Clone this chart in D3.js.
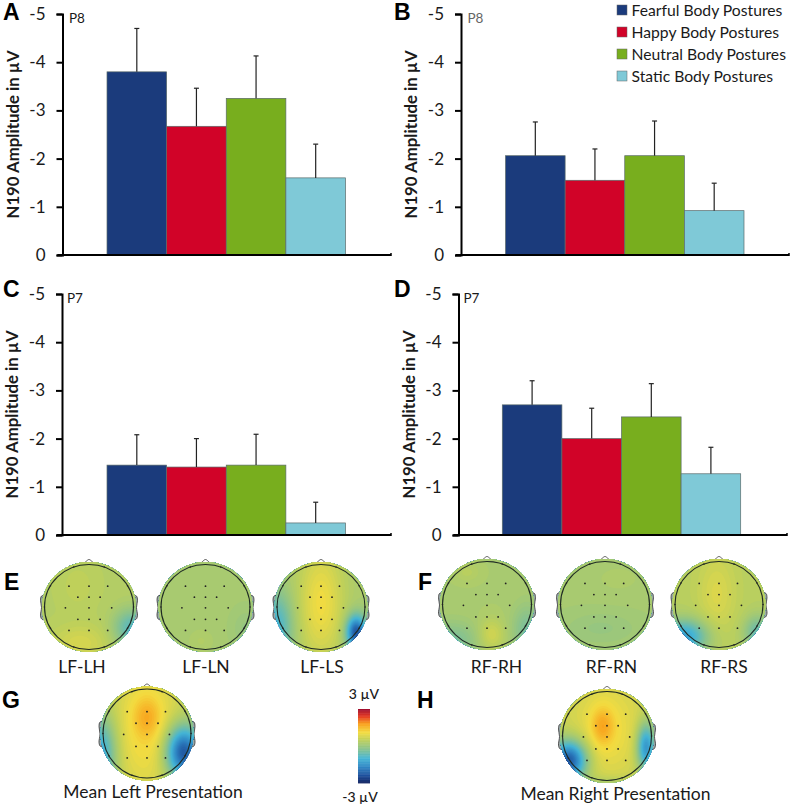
<!DOCTYPE html>
<html lang="en">
<head>
<meta charset="UTF-8">
<title>N190 chart</title>
<style>
  body { margin: 0; background: #fff; }
  text { font-family: Lato, "Open Sans", sans-serif; fill: #1a1a1a; }
</style>
</head>
<body>
<script src="https://d3js.org/d3.v7.min.js"></script>
<script>
// bar data (plotted on a reversed axis, so values are negative)
const categories = ['Fearful Body Postures', 'Happy Body Postures', 'Neutral Body Postures', 'Static Body Postures'];
const colors = ['#1b3b7c', '#d10328', '#78ae1e', '#7fc9d7'];
const yTicks = [0, -1, -2, -3, -4, -5];

const valuesA = [-3.8, -2.67, -3.25, -1.6];
const errorTopA = [-4.7, -3.46, -4.13, -2.3];
const valuesB = [-2.06, -1.55, -2.06, -0.92];
const errorTopB = [-2.76, -2.2, -2.78, -1.49];
const valuesC = [-1.45, -1.41, -1.45, -0.25];
const errorTopC = [-2.08, -2.0, -2.09, -0.68];
const valuesD = [-2.7, -2.0, -2.45, -1.27];
const errorTopD = [-3.2, -2.63, -3.14, -1.82];

// scalp maps: base level in uV, then the visible blobs as [x, y, spreadX, spreadY, uV]
const baseE1 = 0.4, blobsE1 = [[-0.2, 0.85, 0.45, 0.3, 0.4], [-0.25, -0.5, 0.3, 0.4, 0.15], [0.95, 0.5, 0.28, 0.32, -1.1]];
const baseE2 = 0.2, blobsE2 = [[-0.1, 0.8, 0.2, 0.2, 0.15], [0.9, 0.5, 0.2, 0.3, -0.2]];
const baseE3 = 0.25, blobsE3 = [[0, -0.1, 0.36, 0.95, 0.85], [0.8, 0.6, 0.16, 0.28, -2.6], [-1.02, 0.5, 0.26, 0.6, -1.2]];
const baseF1 = 0.25, blobsF1 = [[0.1, 0.7, 0.2, 0.26, 0.5], [-0.45, -0.75, 0.2, 0.15, 0.2], [-0.8, 0.85, 0.4, 0.3, -0.6], [0.9, 0.6, 0.22, 0.4, -0.6]];
const baseF2 = 0.2, blobsF2 = [[-0.1, 0.55, 0.6, 0.28, -0.2], [0.3, -0.6, 0.5, 0.3, 0.08]];
const baseF3 = 0.45, blobsF3 = [[-0.05, -0.25, 0.3, 0.65, 0.4], [-0.8, 0.75, 0.38, 0.28, -1.7], [0.88, 0.65, 0.22, 0.28, -1]];
const baseG = 0.45, blobsG = [[0, -0.1, 0.6, 1.1, 0.75], [0, -0.38, 0.22, 0.32, 0.55], [0.82, 0.42, 0.28, 0.42, -2.9], [-1.05, 0.45, 0.25, 0.6, -1.7]];
const baseH = 0.55, blobsH = [[0, -0.15, 0.62, 0.85, 0.55], [-0.1, -0.22, 0.18, 0.3, 0.7], [-0.85, 0.55, 0.28, 0.32, -2.9], [0.88, 0.25, 0.15, 0.38, -2.1], [0, 1.15, 0.5, 0.15, -0.6]];

const electrodes = [[-0.45, -0.49], [0, -0.49], [0.42, -0.49], [-0.25, -0.23], [0, -0.23], [0.25, -0.23],
  [-0.53, 0.02], [0, 0.02], [0.51, 0.02], [-0.25, 0.29], [0, 0.29], [0.25, 0.29], [-0.45, 0.55], [0, 0.55], [0.42, 0.55]];
const rimAngles = [-150, -110, -70, -30, 0, 30, 70, 110, 150, 180];

const colorTicks = [-3, -2.4, -1.7, -1, -0.2, 0.5, 1.1, 1.8, 2.4, 3];
const colorStops = ['#0a1c5c', '#1d4f9c', '#2f86c4', '#45b5d5', '#8cc38a', '#bfd05a', '#f3dc40', '#f9a01b', '#e5391f', '#9c0a2e'];

const width = 793, height = 807;
const svg = d3.select('body').append('svg').attr('width', width).attr('height', height);
const color = d3.scaleLinear().domain(colorTicks).range(colorStops).clamp(true);

function barPanel(opt) {
  const x = d3.scaleBand().domain(categories).range([opt.bars[0], opt.bars[1]]);
  const y = d3.scaleLinear().domain([0, -5]).range([opt.zero, opt.zero - 241]);
  const g = svg.append('g');

  g.selectAll('rect').data(opt.values).enter().append('rect')
    .attr('x', (d, i) => x(categories[i]))
    .attr('y', d => y(d))
    .attr('width', x.bandwidth())
    .attr('height', d => y(0) - y(d))
    .attr('fill', (d, i) => colors[i])
    .attr('stroke', '#5a6a6a')
    .attr('stroke-width', 0.7);

  // error bars only go up
  const err = g.selectAll('.err').data(opt.errors).enter().append('g').attr('class', 'err');
  err.append('line')
    .attr('x1', (d, i) => x(categories[i]) + x.bandwidth() / 2)
    .attr('x2', (d, i) => x(categories[i]) + x.bandwidth() / 2)
    .attr('y1', d => y(d))
    .attr('y2', (d, i) => y(opt.values[i]))
    .attr('stroke', '#222').attr('stroke-width', 1.2);
  err.append('line')
    .attr('x1', (d, i) => x(categories[i]) + x.bandwidth() / 2 - 2.5)
    .attr('x2', (d, i) => x(categories[i]) + x.bandwidth() / 2 + 2.5)
    .attr('y1', d => y(d))
    .attr('y2', d => y(d))
    .attr('stroke', '#222').attr('stroke-width', 1.2);

  const axis = g.append('g').attr('transform', `translate(${opt.axisX},0)`)
    .call(d3.axisLeft(y).tickValues(yTicks).tickSize(6).tickPadding(11).tickFormat(d => String(d)));
  axis.select('.domain').attr('stroke', '#000').attr('stroke-width', 2);
  axis.selectAll('.tick line').attr('stroke', '#000').attr('stroke-width', 2);
  axis.selectAll('text').style('font-family', 'Lato, sans-serif').attr('font-size', 17).attr('fill', '#1a1a1a');

  g.append('line').attr('x1', opt.axisX - 5).attr('x2', opt.axisEnd)
    .attr('y1', y(0)).attr('y2', y(0)).attr('stroke', '#000').attr('stroke-width', 2);
  g.append('line').attr('x1', opt.axisEnd).attr('x2', opt.axisEnd)
    .attr('y1', y(0) - 2).attr('y2', y(0) + 1).attr('stroke', '#000').attr('stroke-width', 1.5);

  g.append('text').attr('transform', `translate(${opt.axisX - 44},${y(-2.5)}) rotate(-90)`)
    .attr('text-anchor', 'middle').attr('font-size', 16.8).attr('font-weight', 700)
    .text('N190 Amplitude in µV');
  g.append('text').attr('x', opt.axisX + opt.siteDx).attr('y', opt.zero - 232).attr('font-size', 13.5)
    .attr('fill', opt.siteFill || '#1a1a1a').style('fill', opt.siteFill || '#1a1a1a').text(opt.site);
}

barPanel({ values: valuesA, errors: errorTopA, bars: [107, 345.5], zero: 255, axisX: 62.5, axisEnd: 391, site: 'P8', siteDx: 6.5 });
barPanel({ values: valuesB, errors: errorTopB, bars: [505.5, 744], zero: 255, axisX: 461, axisEnd: 789, site: 'P8', siteDx: 6.5, siteFill: '#666' });
barPanel({ values: valuesC, errors: errorTopC, bars: [107, 345.5], zero: 535, axisX: 62, axisEnd: 391, site: 'P7', siteDx: 5 });
barPanel({ values: valuesD, errors: errorTopD, bars: [502.3, 740.7], zero: 535, axisX: 458.5, axisEnd: 787, site: 'P7', siteDx: 5 });

// legend
const legend = svg.append('g').selectAll('g').data(categories).enter().append('g')
  .attr('transform', (d, i) => `translate(617,${[5, 27, 49, 71][i]})`);
legend.append('rect').attr('width', 10).attr('height', 10)
  .attr('fill', (d, i) => colors[i]).attr('stroke', '#666').attr('stroke-width', 0.5);
legend.append('text').attr('x', 14.5).attr('y', 10.5).attr('font-size', 15.7).text(d => d);

// panel letters
const letters = [['A', 3, 20], ['B', 394, 20], ['C', 3, 297], ['D', 394, 297], ['E', 4, 590], ['F', 418, 590], ['G', 2, 708], ['H', 417, 708]];
svg.append('g').selectAll('text').data(letters).enter().append('text')
  .attr('x', d => d[1]).attr('y', d => d[2])
  .style('font-family', '"Liberation Sans", Arial, sans-serif')
  .attr('font-size', 23).attr('font-weight', 700).style('fill', '#000').text(d => d[0]);

let clipId = 0;
function scalpMap(cx, cy, rx, ry, base, blobs) {
  const n = 110;
  const values = [];
  for (let j = 0; j < n; j++) {
    for (let i = 0; i < n; i++) {
      const u = (i + 0.5) / n * 2.4 - 1.2, v = (j + 0.5) / n * 2.4 - 1.2;
      let s = base;
      blobs.forEach(b => {
        const dx = (u - b[0]) / b[2], dy = (v - b[1]) / b[3];
        s += b[4] * Math.exp(-0.5 * (dx * dx + dy * dy));
      });
      values.push(s);
    }
  }
  const contours = d3.contours().size([n, n]).thresholds(d3.range(-3.5, 3.5, 0.08))(values);
  const px = d3.scaleLinear().domain([0, n]).range([cx - 1.2 * rx, cx + 1.2 * rx]);
  const py = d3.scaleLinear().domain([0, n]).range([cy - 1.2 * ry, cy + 1.2 * ry]);
  const path = d3.geoPath(d3.geoTransform({ point(a, b) { this.stream.point(px(a), py(b)); } }));

  const id = 'clip' + (clipId++);
  svg.append('clipPath').attr('id', id).append('ellipse')
    .attr('cx', cx).attr('cy', cy).attr('rx', rx + 2.5).attr('ry', ry + 2.5);

  const g = svg.append('g');
  // ears and nose go under the map
  [-1, 1].forEach(side => {
    const earX = d3.scaleLinear().domain([0, 1]).range([cx + side * (rx - 1), cx + side * (rx + 4)]);
    const earY = d3.scaleLinear().domain([-1, 1]).range([cy - 0.27 * ry, cy + 0.29 * ry]);
    const ear = d3.line().x(d => earX(d[0])).y(d => earY(d[1])).curve(d3.curveCatmullRomClosed);
    g.append('path').attr('d', ear([[0, -1], [0.8, -0.95], [1, -0.6], [0.8, 0], [1, 0.7], [0.7, 1], [0, 1]]))
      .attr('fill', '#9aa8a8').attr('stroke', '#333').attr('stroke-width', 0.8);
  });
  const noseLine = d3.line().x(d => cx + d[0]).y(d => cy - ry + d[1]).curve(d3.curveCatmullRom);
  g.append('path').attr('d', noseLine([[-7, 1], [-3, -3], [0, -5], [3, -3], [7, 1]]))
    .attr('fill', '#fff').attr('stroke', '#333').attr('stroke-width', 0.8);

  const map = g.append('g').attr('clip-path', `url(#${id})`);
  map.append('rect').attr('x', cx - 1.2 * rx).attr('y', cy - 1.2 * ry).attr('width', 2.4 * rx).attr('height', 2.4 * ry)
    .attr('fill', color(-3));
  map.selectAll('path').data(contours).enter().append('path')
    .attr('d', path).attr('fill', d => color(d.value));

  g.append('ellipse').attr('cx', cx).attr('cy', cy).attr('rx', rx).attr('ry', ry)
    .attr('fill', 'none').attr('stroke', '#1e2a24').attr('stroke-width', 1.1);
  g.selectAll('.dot').data(electrodes).enter().append('circle').attr('class', 'dot')
    .attr('cx', d => cx + d[0] * rx).attr('cy', d => cy + d[1] * ry).attr('r', 0.9).attr('fill', '#222');
  g.selectAll('.rim').data(rimAngles).enter().append('circle').attr('class', 'rim')
    .attr('cx', d => cx + Math.cos(d * Math.PI / 180) * rx).attr('cy', d => cy + Math.sin(d * Math.PI / 180) * ry)
    .attr('r', 0.8).attr('fill', '#222');
}

scalpMap(89, 607, 44.5, 42.5, baseE1, blobsE1);
scalpMap(205.5, 607, 44.5, 42.5, baseE2, blobsE2);
scalpMap(321, 607, 44, 42.5, baseE3, blobsE3);
scalpMap(487, 604.5, 44.5, 43, baseF1, blobsF1);
scalpMap(605, 604.5, 44.5, 43, baseF2, blobsF2);
scalpMap(719, 604.5, 44, 43, baseF3, blobsF3);
scalpMap(147, 733.5, 44, 44.5, baseG, blobsG);
scalpMap(607, 736, 44.5, 44.5, baseH, blobsH);

// captions
const captions = [['LF-LH', 82, 672.5], ['LF-LN', 206, 672.5], ['LF-LS', 322, 672.5],
  ['RF-RH', 496.5, 672.5], ['RF-RN', 611.5, 672.5], ['RF-RS', 724, 672.5],
  ['Mean Left Presentation', 153, 798], ['Mean Right Presentation', 615.5, 800]];
svg.append('g').selectAll('text').data(captions).enter().append('text')
  .attr('x', d => d[1]).attr('y', d => d[2]).attr('text-anchor', 'middle').attr('font-size', 17.5).text(d => d[0]);

// colour bar
const barY = d3.scaleLinear().domain([3, -3]).range([709, 783]);
const barSteps = d3.range(-3, 3, 0.05);
svg.append('g').selectAll('rect').data(barSteps).enter().append('rect')
  .attr('x', 358).attr('width', 12)
  .attr('y', d => barY(d + 0.05)).attr('height', d => barY(d) - barY(d + 0.05) + 0.4)
  .attr('fill', d => color(d));
svg.append('text').attr('x', 364).attr('y', 699).attr('text-anchor', 'middle').attr('font-size', 14).attr('font-weight', 500).text('3 µV');
svg.append('text').attr('x', 360).attr('y', 802).attr('text-anchor', 'middle').attr('font-size', 14).attr('font-weight', 500).text('-3 µV');
</script>
</body>
</html>
